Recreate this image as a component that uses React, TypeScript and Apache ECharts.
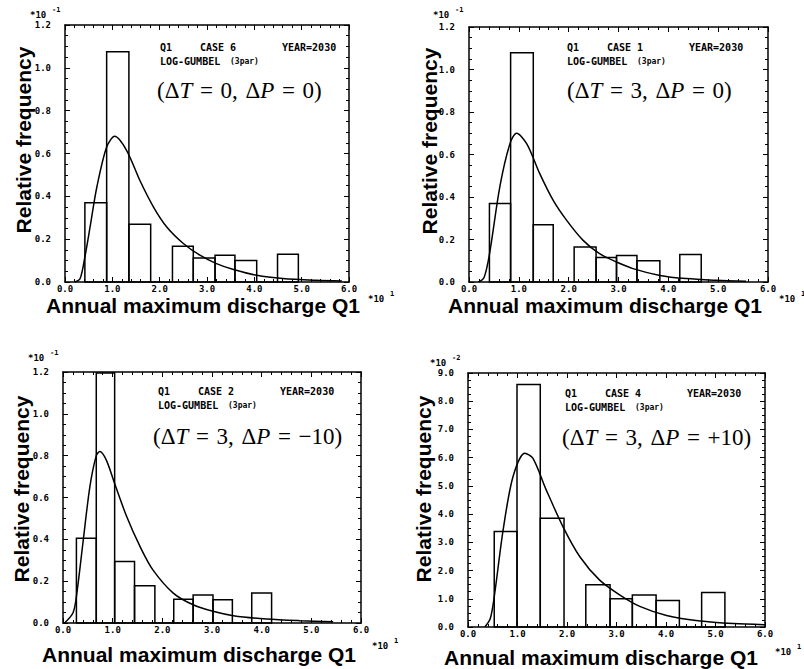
import React, { useEffect, useRef } from 'react';
import * as echarts from 'echarts';

// ---------- data ----------
const X_TICK_LABELS = ['0.0', '1.0', '2.0', '3.0', '4.0', '5.0', '6.0'];

// Panel 1: CASE 6 (dT=0, dP=0), y in 10^-1
const CASE6_EDGES = [0.42, 0.88, 1.35, 1.81, 2.27, 2.71, 3.17, 3.59, 4.05, 4.49, 4.93];
const CASE6_FREQ = [0.37, 1.075, 0.27, 0, 0.167, 0.112, 0.125, 0.1, 0, 0.13];
const CASE6_CURVE_X = [0.21, 0.32, 0.42, 0.53, 0.67, 0.88, 1.05, 1.3, 1.58, 1.87, 2.15, 2.5, 2.85, 3.2, 3.56, 4.05, 4.6, 5.3, 5.85];
const CASE6_CURVE_Y = [0, 0.016, 0.117, 0.257, 0.44, 0.63, 0.68, 0.615, 0.475, 0.35, 0.257, 0.18, 0.125, 0.086, 0.058, 0.031, 0.016, 0.008, 0.005];

// Panel 2: CASE 1 (dT=3, dP=0), y in 10^-1
const CASE1_EDGES = [0.41, 0.835, 1.29, 1.69, 2.11, 2.55, 2.96, 3.37, 3.83, 4.23, 4.66];
const CASE1_FREQ = [0.369, 1.079, 0.27, 0, 0.165, 0.115, 0.125, 0.1, 0, 0.13];
const CASE1_CURVE_X = [0.19, 0.3, 0.41, 0.62, 0.82, 0.955, 1.16, 1.42, 1.69, 1.96, 2.29, 2.62, 2.96, 3.29, 3.83, 4.36, 4.96, 5.56];
const CASE1_CURVE_Y = [0, 0.02, 0.13, 0.45, 0.65, 0.7, 0.65, 0.51, 0.384, 0.29, 0.196, 0.133, 0.094, 0.063, 0.031, 0.016, 0.008, 0.003];

// Panel 3: CASE 2 (dT=3, dP=-10), y in 10^-1
const CASE2_EDGES = [0.27, 0.67, 1.04, 1.44, 1.85, 2.23, 2.62, 3.02, 3.41, 3.8, 4.2];
const CASE2_FREQ = [0.405, 1.195, 0.294, 0.178, 0, 0.114, 0.134, 0.111, 0, 0.143];
const CASE2_CURVE_X = [0.03, 0.2, 0.27, 0.4, 0.54, 0.67, 0.74, 0.87, 1.04, 1.28, 1.55, 1.81, 2.22, 2.62, 3.02, 3.43, 4.1, 4.77, 5.44];
const CASE2_CURVE_Y = [0, 0.048, 0.127, 0.38, 0.65, 0.8, 0.82, 0.78, 0.667, 0.51, 0.366, 0.254, 0.143, 0.087, 0.056, 0.035, 0.019, 0.011, 0.006];

// Panel 4: CASE 4 (dT=3, dP=+10), y in 10^-2
const CASE4_EDGES = [0.53, 0.99, 1.46, 1.94, 2.38, 2.87, 3.32, 3.8, 4.27, 4.72, 5.19];
const CASE4_FREQ = [3.38, 8.59, 3.85, 0, 1.5, 1.0, 1.13, 0.94, 0, 1.22];
const CASE4_CURVE_X = [0.34, 0.45, 0.53, 0.71, 0.91, 1.15, 1.31, 1.58, 1.92, 2.26, 2.66, 3.07, 3.47, 4.01, 4.69, 5.36, 6.0];
const CASE4_CURVE_Y = [0, 0.3, 1.07, 3.44, 5.33, 6.16, 5.98, 4.86, 3.55, 2.49, 1.66, 1.13, 0.73, 0.41, 0.21, 0.12, 0.08];

const CASE_NUMBERS = ['6', '1', '2', '4'];
const DELTA_T = ['0', '3', '3', '3'];
const DELTA_P = ['0', '0', '\u221210', '+10'];
const Y_MAX = [1.2, 1.2, 1.2, 9.0];
const Y_INTERVAL = [0.2, 0.2, 0.2, 1.0];
const Y_EXP = ['-1', '-1', '-1', '-2'];
const X_EXP = '1';

const PANEL_DATA = [
  { edges: CASE6_EDGES, freq: CASE6_FREQ, cx: CASE6_CURVE_X, cy: CASE6_CURVE_Y },
  { edges: CASE1_EDGES, freq: CASE1_FREQ, cx: CASE1_CURVE_X, cy: CASE1_CURVE_Y },
  { edges: CASE2_EDGES, freq: CASE2_FREQ, cx: CASE2_CURVE_X, cy: CASE2_CURVE_Y },
  { edges: CASE4_EDGES, freq: CASE4_FREQ, cx: CASE4_CURVE_X, cy: CASE4_CURVE_Y },
];

// ---------- layout ----------
const LAYOUT = [
  { grid: { left: 65, top: 25, width: 284, height: 257 }, yName: [23, 140], yExp: [30, 15], xExp: [368, 299], ann: [160, 47], math: [157, 90], xName: [203, 305] },
  { grid: { left: 469, top: 27, width: 299, height: 255 }, yName: [429, 141], yExp: [433, 15], xExp: [779, 299], ann: [567, 47], math: [567, 90], xName: [605, 305] },
  { grid: { left: 63, top: 372, width: 298, height: 251 }, yName: [21, 489], yExp: [28, 358], xExp: [372, 646], ann: [158, 391], math: [153, 436], xName: [199, 654] },
  { grid: { left: 468, top: 373, width: 297, height: 254 }, yName: [423, 489], yExp: [430, 363], xExp: [775, 652], ann: [565, 393], math: [562, 437], xName: [601, 657] },
];

const MONO = 'DejaVu Sans Mono';
const SANS = 'Liberation Sans';
const SERIF = 'Liberation Serif';
const SP = '\u2004';

function buildOption() {
  const grids: any[] = [];
  const xAxes: any[] = [];
  const yAxes: any[] = [];
  const series: any[] = [];
  const graphics: any[] = [];

  const tickLabel = { fontFamily: MONO, fontWeight: 'bold', fontSize: 9, color: '#000' };
  const line = { lineStyle: { color: '#000', width: 1.5 } };

  LAYOUT.forEach((L, i) => {
    grids.push({ ...L.grid, containLabel: false, show: false });
    const xBase = {
      type: 'value', gridIndex: i, min: 0, max: 6, interval: 1,
      axisLine: { show: true, onZero: false, ...line },
      axisTick: { show: true, inside: true, length: 5, lineStyle: { color: '#000', width: 1 } },
      minorTick: { show: true, splitNumber: 5, length: 3, lineStyle: { color: '#000', width: 1 } },
      splitLine: { show: false },
    };
    xAxes.push({
      ...xBase, position: 'bottom',
      axisLabel: { ...tickLabel, margin: 2, formatter: (v: number) => X_TICK_LABELS[Math.round(v)] ?? '' },
    });
    xAxes.push({ ...xBase, position: 'top', axisLabel: { show: false } });
    const yBase = {
      type: 'value', gridIndex: i, min: 0, max: Y_MAX[i], interval: Y_INTERVAL[i],
      axisLine: { show: true, onZero: false, ...line },
      axisTick: { show: true, inside: true, length: 5, lineStyle: { color: '#000', width: 1 } },
      minorTick: { show: true, splitNumber: 4, length: 3, lineStyle: { color: '#000', width: 1 } },
      splitLine: { show: false },
    };
    yAxes.push({
      ...yBase, position: 'left',
      axisLabel: { ...tickLabel, margin: 14, formatter: (v: number) => v.toFixed(1) },
    });
    yAxes.push({ ...yBase, position: 'right', axisLabel: { show: false } });

    const d = PANEL_DATA[i];
    const hist = d.freq.map((h, k) => [d.edges[k], d.edges[k + 1], h]);
    series.push({
      type: 'custom', xAxisIndex: 2 * i, yAxisIndex: 2 * i,
      data: hist, encode: { x: [0, 1], y: 2 },
      renderItem: (params: any, api: any) => {
        const p0 = api.coord([api.value(0), api.value(2)]);
        const p1 = api.coord([api.value(1), 0]);
        return {
          type: 'rect',
          shape: { x: p0[0], y: p0[1], width: p1[0] - p0[0], height: p1[1] - p0[1] },
          style: { fill: 'none', stroke: '#000', lineWidth: 1.5 },
        };
      },
      silent: true,
    });
    series.push({
      type: 'line', xAxisIndex: 2 * i, yAxisIndex: 2 * i,
      data: d.cx.map((x, k) => [x, d.cy[k]]),
      showSymbol: false, smooth: 0.3,
      lineStyle: { color: '#000', width: 1.5 },
      silent: true,
    });

    // y axis name
    graphics.push({
      type: 'text', x: L.yName[0], y: L.yName[1], rotation: Math.PI / 2,
      style: { text: 'Relative frequency', fontFamily: SANS, fontWeight: 'bold', fontSize: 21, fill: '#000', align: 'center', verticalAlign: 'middle' },
    });
    // x axis name
    graphics.push({
      type: 'text', x: L.xName[0], y: L.xName[1],
      style: { text: 'Annual maximum discharge Q1', fontFamily: SANS, fontWeight: 'bold', fontSize: 21, fill: '#000', align: 'center', verticalAlign: 'middle' },
    });
    // y exponent
    graphics.push({
      type: 'text', x: L.yExp[0], y: L.yExp[1],
      style: { text: '*10', fontFamily: MONO, fontWeight: 'bold', fontSize: 9, fill: '#000', align: 'left', verticalAlign: 'middle' },
    });
    graphics.push({
      type: 'text', x: L.yExp[0] + 22, y: L.yExp[1] - 5,
      style: { text: Y_EXP[i], fontFamily: MONO, fontWeight: 'bold', fontSize: 7, fill: '#000', align: 'left', verticalAlign: 'middle' },
    });
    // x exponent
    graphics.push({
      type: 'text', x: L.xExp[0], y: L.xExp[1],
      style: { text: '*10', fontFamily: MONO, fontWeight: 'bold', fontSize: 9, fill: '#000', align: 'left', verticalAlign: 'middle' },
    });
    graphics.push({
      type: 'text', x: L.xExp[0] + 22, y: L.xExp[1] - 5,
      style: { text: X_EXP, fontFamily: MONO, fontWeight: 'bold', fontSize: 7, fill: '#000', align: 'left', verticalAlign: 'middle' },
    });
    // annotation rows
    const annStyle = { fontFamily: MONO, fontWeight: 'bold', fontSize: 10, fill: '#000', align: 'left', verticalAlign: 'middle' };
    graphics.push({ type: 'text', x: L.ann[0], y: L.ann[1], style: { ...annStyle, text: 'Q1' } });
    graphics.push({ type: 'text', x: L.ann[0] + 40, y: L.ann[1], style: { ...annStyle, text: 'CASE ' + CASE_NUMBERS[i] } });
    graphics.push({ type: 'text', x: L.ann[0] + 122, y: L.ann[1], style: { ...annStyle, text: 'YEAR=2030' } });
    graphics.push({ type: 'text', x: L.ann[0], y: L.ann[1] + 14, style: { ...annStyle, text: 'LOG-GUMBEL' } });
    graphics.push({ type: 'text', x: L.ann[0] + 70, y: L.ann[1] + 14, style: { ...annStyle, fontSize: 8, text: '(3par)' } });
    // math label
    graphics.push({
      type: 'text', x: L.math[0], y: L.math[1],
      style: {
        text: '{n|(\u0394}{i|T}{n|' + SP + '=' + SP + DELTA_T[i] + ',' + SP + '\u0394}{i|P}{n|' + SP + '=' + SP + DELTA_P[i] + ')}',
        rich: {
          n: { fontFamily: SERIF, fontSize: 23, fill: '#000' },
          i: { fontFamily: SERIF, fontSize: 23, fontStyle: 'italic', fill: '#000' },
        },
        align: 'left', verticalAlign: 'middle',
      },
    });
  });

  return {
    animation: false,
    backgroundColor: '#fff',
    grid: grids,
    xAxis: xAxes,
    yAxis: yAxes,
    series,
    graphic: graphics,
  };
}

export default function App() {
  const ref = useRef<HTMLDivElement>(null);
  useEffect(() => {
    if (!ref.current) return;
    const chart = echarts.init(ref.current, undefined, { renderer: 'svg' });
    chart.setOption(buildOption() as any);
    return () => chart.dispose();
  }, []);
  return <div ref={ref} style={{ position: 'absolute', left: 0, top: 0, width: 804, height: 669, background: '#fff' }} />;
}
